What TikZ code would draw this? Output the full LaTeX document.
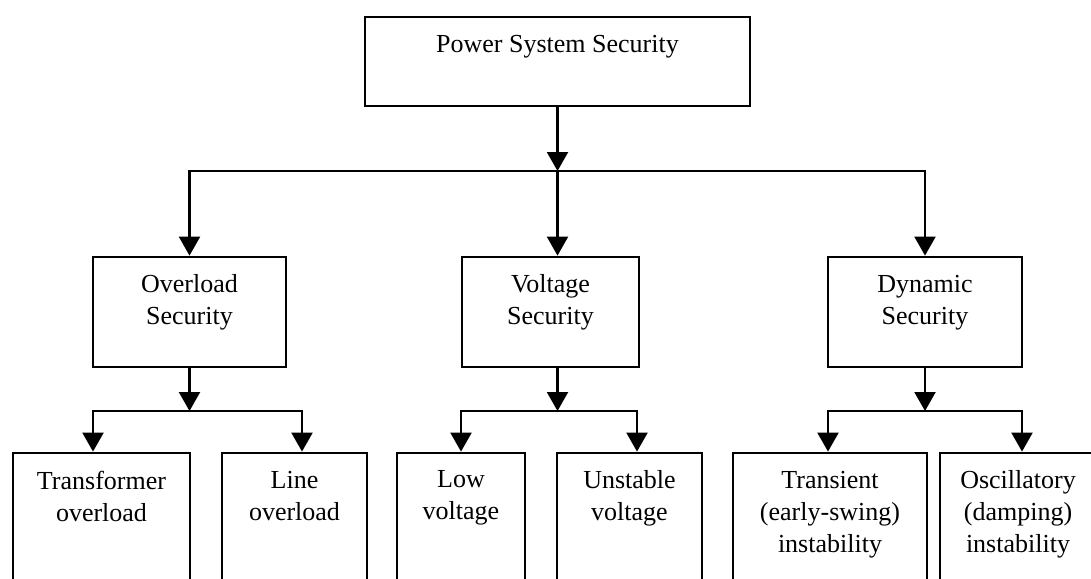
\documentclass[tikz,border=0pt]{standalone}
\usepackage{fontspec}
\setmainfont{Liberation Serif}
\usetikzlibrary{arrows.meta}
\tikzset{
  blk/.style ={rectangle, draw=black, line width=2.8pt, fill=white, inner sep=0pt},
  txt/.style ={anchor=north, align=center, inner sep=0pt, yshift=-19pt,
               font=\fontsize{26}{32}\selectfont},
  ar/.style  ={-{Triangle[length=19pt, width=21pt]}, line width=2.2pt},
}

\begin{document}
\begin{tikzpicture}[x=1pt, y=-1pt]
\useasboundingbox (0,0) rectangle (1091,578);
\clip (0,0) rectangle (1091,578);
% top and middle level
\node[blk, minimum width=385pt, minimum height=89pt, label={[txt]north:Power System Security}] (ps) at (557.5,61.5) {};
\node[blk, minimum width=193pt, minimum height=110pt, label={[txt]north:Overload\\Security}] (os) at (189.5,312) {};
\node[blk, minimum width=177pt, minimum height=110pt, label={[txt]north:Voltage\\Security}]  (vs) at (550.5,312) {};
\node[blk, minimum width=194pt, minimum height=110pt, label={[txt]north:Dynamic\\Security}]  (ds) at (925,312) {};
% bottom level (runs off the page)
\node[blk, minimum width=177pt, minimum height=167pt, label={[txt]north:Transformer\\overload}] (tr) at (101.5,536.5) {};
\node[blk, minimum width=145pt, minimum height=167pt, label={[txt]north:Line\\overload}]        (lo) at (294.5,536.5) {};
\node[blk, minimum width=128pt, minimum height=167pt, label={[txt]north:Low\\voltage}]         (lv) at (461,536.5) {};
\node[blk, minimum width=145pt, minimum height=167pt, label={[txt]north:Unstable\\voltage}]    (uv) at (629.5,536.5) {};
\node[blk, minimum width=194pt, minimum height=167pt, label={[txt]north:Transient\\(early-swing)\\instability}] (ti) at (830,536.5) {};
\node[blk, minimum width=156pt, minimum height=167pt, label={[txt]north:Oscillatory\\(damping)\\instability}] (oi) at (1018,536.5) {};
% bus points
\coordinate (t0) at (557.5,171);
\coordinate (o1) at (189.5,411);
\coordinate (v1) at (557.5,411);
\coordinate (d1) at (925,411);
\draw[ar] (ps.south) -- (t0);
\draw[ar] (t0) -| (os.north); \draw[ar] (t0) -- (t0 |- vs.north); \draw[ar] (t0) -| (ds.north);
\draw[ar] (os.south) -- (o1);
\draw[ar] (vs.south -| v1) -- (v1);
\draw[ar] (ds.south) -- (d1);
\draw[ar] (o1) -| ([xshift=-8.5pt]tr.north); \draw[ar] (o1) -| ([xshift=7.5pt]lo.north);
\draw[ar] (v1) -| (lv.north);                 \draw[ar] (v1) -| ([xshift=7.5pt]uv.north);
\draw[ar] (d1) -| ([xshift=-2pt]ti.north);   \draw[ar] (d1) -| ([xshift=4pt]oi.north);
\end{tikzpicture}
\end{document}
